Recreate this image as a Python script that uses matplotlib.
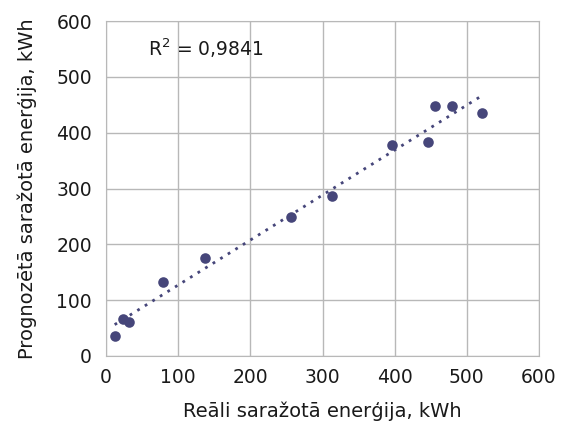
import numpy as np
import matplotlib.pyplot as plt

plt.rcParams['font.family'] = ['DejaVu Sans']

# measured (x) vs predicted (y) energy, kWh
real_kwh = [12, 24, 32, 79, 137, 256, 313, 396, 446, 456, 480, 521]
pred_kwh = [35, 66, 61, 133, 175, 249, 287, 378, 383, 448, 447, 436]
ticks = [0, 100, 200, 300, 400, 500, 600]

dot_color = '#46467a'
grid_color = '#b8b8b8'
txt = '#1a1a1a'

fig = plt.figure(figsize=(5.66, 4.24), dpi=100)
ax = fig.add_axes([0.1873, 0.1604, 0.765, 0.790])

# linear trend line
k, b = np.polyfit(real_kwh, pred_kwh, 1)
xt = np.array([min(real_kwh), max(real_kwh)])
ax.plot(xt, k * xt + b, ls=(0, (1, 2.2)), lw=2, color=dot_color, zorder=2)

ax.scatter(real_kwh, pred_kwh, s=58, color=dot_color, zorder=3, linewidths=0)

ax.set_xlim(0, 600)
ax.set_ylim(0, 600)
ax.set_xticks(ticks)
ax.set_yticks(ticks)
ax.grid(True, color=grid_color, lw=1)
ax.set_axisbelow(True)
for s in ax.spines.values():
    s.set_color(grid_color)
ax.tick_params(length=0, labelsize=13.5, colors=txt)
ax.tick_params(axis='x', pad=9)
ax.tick_params(axis='y', pad=10)

ax.text(58, 552, 'R$^2$ = 0,9841', fontsize=13.5, va='center', color=txt)

ax.set_xlabel('Reāli saražotā enerģija, kWh', fontsize=14, labelpad=10, color=txt)
ax.set_ylabel('Prognozētā saražotā enerģija, kWh', fontsize=14, labelpad=14, color=txt)

fig.savefig('out.png', dpi=100)
